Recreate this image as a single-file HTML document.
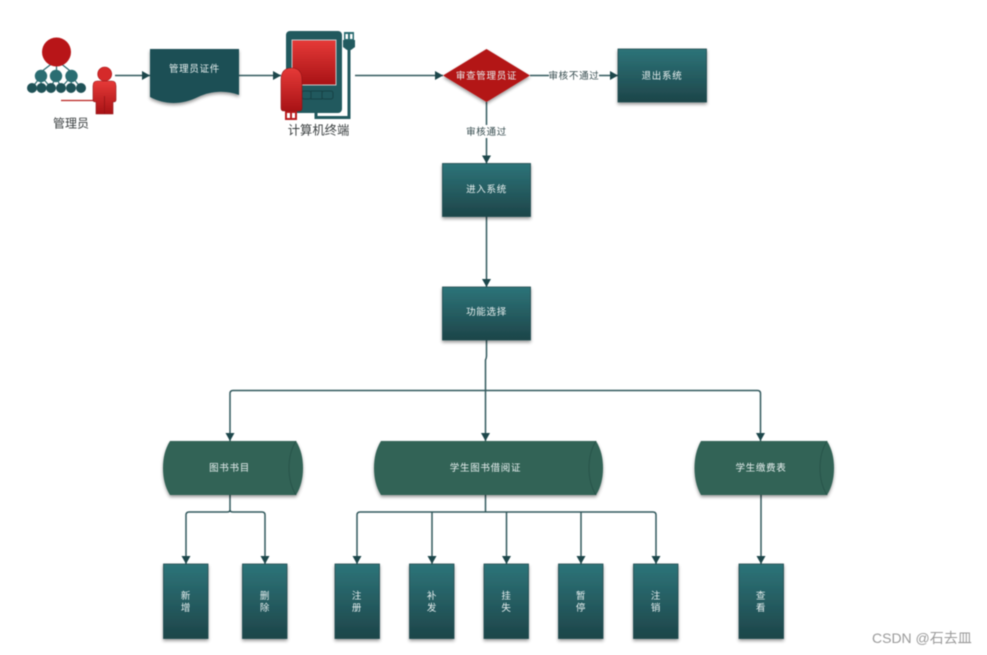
<!DOCTYPE html>
<html><head><meta charset="utf-8">
<style>
html,body{margin:0;padding:0;background:#fff;width:987px;height:655px;overflow:hidden}
svg{display:block;filter:blur(.4px)}
text{font-family:"Liberation Sans","Noto Sans CJK SC",sans-serif}
.w{fill:#e8f0f0;font-size:9.5px;text-anchor:middle;letter-spacing:.7px}
.l{fill:#33494c;font-size:9.5px;text-anchor:middle;letter-spacing:.7px}
.c{fill:none;stroke:#32595d;stroke-width:1.5}
.r{fill:url(#t);stroke:#1f4a4f;stroke-width:.8;filter:url(#s)}
.cy{fill:#316356;filter:url(#s)}
.cl{fill:none;stroke:#28544a;stroke-width:1}
</style></head><body>
<svg width="987" height="655" viewBox="0 0 987 655" xmlns="http://www.w3.org/2000/svg">
<defs>
<linearGradient id="t" x1="0" y1="0" x2="0" y2="1"><stop offset="0" stop-color="#2d7479"/><stop offset="1" stop-color="#1d4549"/></linearGradient>
<linearGradient id="rd" x1="0" y1="0" x2="0" y2="1"><stop offset="0" stop-color="#e63a38"/><stop offset="1" stop-color="#a81215"/></linearGradient>
<filter id="s" x="-15%" y="-15%" width="130%" height="135%"><feDropShadow dx="0" dy="2" stdDeviation="1.5" flood-color="#000" flood-opacity=".4"/></filter>
<marker id="a" markerWidth="9" markerHeight="10" refX="8" refY="5" orient="auto" markerUnits="userSpaceOnUse"><path d="M0 .5L8 5L0 9.500z" fill="#1d474b"/></marker>
</defs>

<!-- admin network -->
<g stroke="#2d6a70" stroke-width="1.2" fill="none">
<path d="M56.500 60L41 72M56.500 60V72M56.500 60L71.500 72M41 76L32 88M41 76V88M41 76L51 88M56 76L51 88M56 76L61 88M71.500 76L61 88M71.500 76L71 88M71.500 76L81 88"/>
</g>
<circle cx="56.500" cy="52" r="14.500" fill="#b81518"/>
<g fill="#2a6d72"><circle cx="41" cy="76" r="6.200"/><circle cx="56" cy="76" r="6.200"/><circle cx="71.500" cy="76" r="6.200"/></g>
<g fill="#1f5257"><circle cx="32" cy="88" r="5"/><circle cx="41.500" cy="88" r="5"/><circle cx="51" cy="88" r="5"/><circle cx="61" cy="88" r="5"/><circle cx="71" cy="88" r="5"/><circle cx="81" cy="88" r="5"/></g>
<path d="M61 100.500H94" stroke="#b8211f" stroke-width="1.300"/>
<circle cx="104.700" cy="74" r="7" fill="#d52a2a" stroke="#a81215" stroke-width=".6"/>
<path d="M97 81H112Q116 81 116 86V100Q116 102 113 102V114H96V102Q93 102 93 100V86Q93 81 97 81Z" fill="url(#rd)" stroke="#8f1214" stroke-width=".6"/>
<path d="M104.500 96V114" stroke="#8f1214" stroke-width=".7"/>
<text x="71" y="127.500" font-size="12" text-anchor="middle" fill="#3a3f40">管理员</text>

<!-- document -->
<path d="M150 49H239V95C225 90 211 91 198 97C182 105 165 105 150 97Z" fill="#1f4f54" filter="url(#s)"/>
<text class="w" x="194.500" y="72">管理员证件</text>

<!-- terminal -->
<path d="M349 49V117.500H316V110" fill="none" stroke="#225a5f" stroke-width="3"/>
<rect x="344" y="32" width="10" height="9" fill="#2a6b70"/><rect x="345.500" y="34" width="2.500" height="5" fill="#fff"/><rect x="350" y="34" width="2.500" height="5" fill="#fff"/>
<path d="M343 40H355V47L351 50H347L343 47Z" fill="#225a5f"/>
<rect x="286" y="31" width="56" height="82" rx="4" fill="#21595e"/>
<rect x="292" y="40" width="44" height="45" fill="url(#rd)" stroke="#c9c9c9" stroke-width="1"/>
<g fill="none" stroke="#174246" stroke-width="1"><rect x="302" y="91" width="9" height="8" rx="2"/><rect x="311" y="91" width="11" height="8"/><rect x="322" y="91" width="11" height="8" rx="2"/></g>
<rect x="285" y="111" width="12" height="9" fill="#b81a1c"/><rect x="287" y="113" width="3" height="5" fill="#fff"/><rect x="292" y="113" width="3" height="5" fill="#fff"/>
<path d="M281 80Q281 68 291.500 68Q302 68 302 80V108Q302 111 299 111H284Q281 111 281 108Z" fill="url(#rd)" stroke="#8f1214" stroke-width=".6"/>
<text x="318.500" y="134.500" font-size="12.300" text-anchor="middle" fill="#3a3f40">计算机终端</text>

<!-- connectors -->
<path class="c" marker-end="url(#a)" d="M115 75.500H150"/>
<path class="c" marker-end="url(#a)" d="M239 75.500H281"/>
<path class="c" marker-end="url(#a)" d="M355 75.500H443"/>
<path class="c" marker-end="url(#a)" d="M530 75.500H618"/>
<path class="c" marker-end="url(#a)" d="M486.500 102V163.500"/>
<path class="c" marker-end="url(#a)" d="M486.500 216.500V287"/>
<path class="c" marker-end="url(#a)" d="M486.500 340V356Q486.500 358 485.500 360V441"/>
<path class="c" marker-end="url(#a)" d="M485.500 390.500H233Q230 390.500 230 393.500V441"/>
<path class="c" marker-end="url(#a)" d="M485.500 390.500H757.500Q760.500 390.500 760.500 393.500V441"/>
<path class="c" d="M230 495V510"/>
<path class="c" marker-end="url(#a)" d="M230 510Q230 512 227 512H189Q186 512 186 515V564"/>
<path class="c" marker-end="url(#a)" d="M230 510Q230 512 233 512H262Q265 512 265 515V564"/>
<path class="c" d="M485.500 495V512"/>
<path class="c" marker-end="url(#a)" d="M485.500 512H360Q357 512 357 515V564"/>
<path class="c" marker-end="url(#a)" d="M432 512V564"/>
<path class="c" marker-end="url(#a)" d="M506.500 512V564"/>
<path class="c" marker-end="url(#a)" d="M581 512V564"/>
<path class="c" marker-end="url(#a)" d="M485.500 512H653Q656 512 656 515V564"/>
<path class="c" marker-end="url(#a)" d="M761 495V564"/>

<!-- diamond -->
<path d="M486.500 49L530 75.500L486.500 102L443 75.500Z" fill="#b31518" filter="url(#s)"/>
<text class="w" x="486.500" y="79">审查管理员证</text>

<!-- edge labels -->
<rect x="549" y="69" width="50" height="13" fill="#fff"/>
<text class="l" x="574" y="79">审核不通过</text>
<rect x="466" y="125" width="41" height="13" fill="#fff"/>
<text class="l" x="486.500" y="135">审核通过</text>

<!-- main rects -->
<rect class="r" x="618" y="49" width="88.500" height="53"/><text class="w" x="662" y="79">退出系统</text>
<rect class="r" x="442.500" y="163.500" width="88" height="53"/><text class="w" x="486.500" y="192.500">进入系统</text>
<rect class="r" x="442.500" y="287" width="88" height="53"/><text class="w" x="486.500" y="315">功能选择</text>

<!-- cylinders -->
<path class="cy" d="M170 441H296C301 449 303 458 303 468C303 478 301 487 296 495H170C165 487 163 478 163 468C163 458 165 449 170 441Z"/>
<path class="cl" d="M296 441C291 449 289 458 289 468C289 478 291 487 296 495"/>
<text class="w" x="229.500" y="471">图书书目</text>
<path class="cy" d="M381 441H596C601 449 603 458 603 468C603 478 601 487 596 495H381C376 487 374 478 374 468C374 458 376 449 381 441Z"/>
<path class="cl" d="M596 441C591 449 589 458 589 468C589 478 591 487 596 495"/>
<text class="w" x="485.500" y="471">学生图书借阅证</text>
<path class="cy" d="M701 441H827C832 449 834 458 834 468C834 478 832 487 827 495H701C696.500 487 694.500 478 694.500 468C694.500 458 696.500 449 701 441Z"/>
<path class="cl" d="M827 441C822 449 820 458 820 468C820 478 822 487 827 495"/>
<text class="w" x="761" y="471">学生缴费表</text>

<!-- small rects -->
<rect class="r" x="163.500" y="564" width="44.500" height="74.500"/><text class="w" x="186" y="599">新</text><text class="w" x="186" y="611">增</text>
<rect class="r" x="242.500" y="564" width="44.500" height="74.500"/><text class="w" x="265" y="599">删</text><text class="w" x="265" y="611">除</text>
<rect class="r" x="335" y="564" width="44.500" height="74.500"/><text class="w" x="357" y="599">注</text><text class="w" x="357" y="611">册</text>
<rect class="r" x="409.500" y="564" width="44.500" height="74.500"/><text class="w" x="432" y="599">补</text><text class="w" x="432" y="611">发</text>
<rect class="r" x="484" y="564" width="44.500" height="74.500"/><text class="w" x="506.500" y="599">挂</text><text class="w" x="506.500" y="611">失</text>
<rect class="r" x="558.500" y="564" width="44.500" height="74.500"/><text class="w" x="581" y="599">暂</text><text class="w" x="581" y="611">停</text>
<rect class="r" x="633.500" y="564" width="44.500" height="74.500"/><text class="w" x="656" y="599">注</text><text class="w" x="656" y="611">销</text>
<rect class="r" x="739" y="564" width="44.500" height="74.500"/><text class="w" x="761" y="599">查</text><text class="w" x="761" y="611">看</text>

<text x="872" y="643" font-size="14" fill="#9a9a9a">CSDN @石去皿</text>
</svg>
</body></html>
